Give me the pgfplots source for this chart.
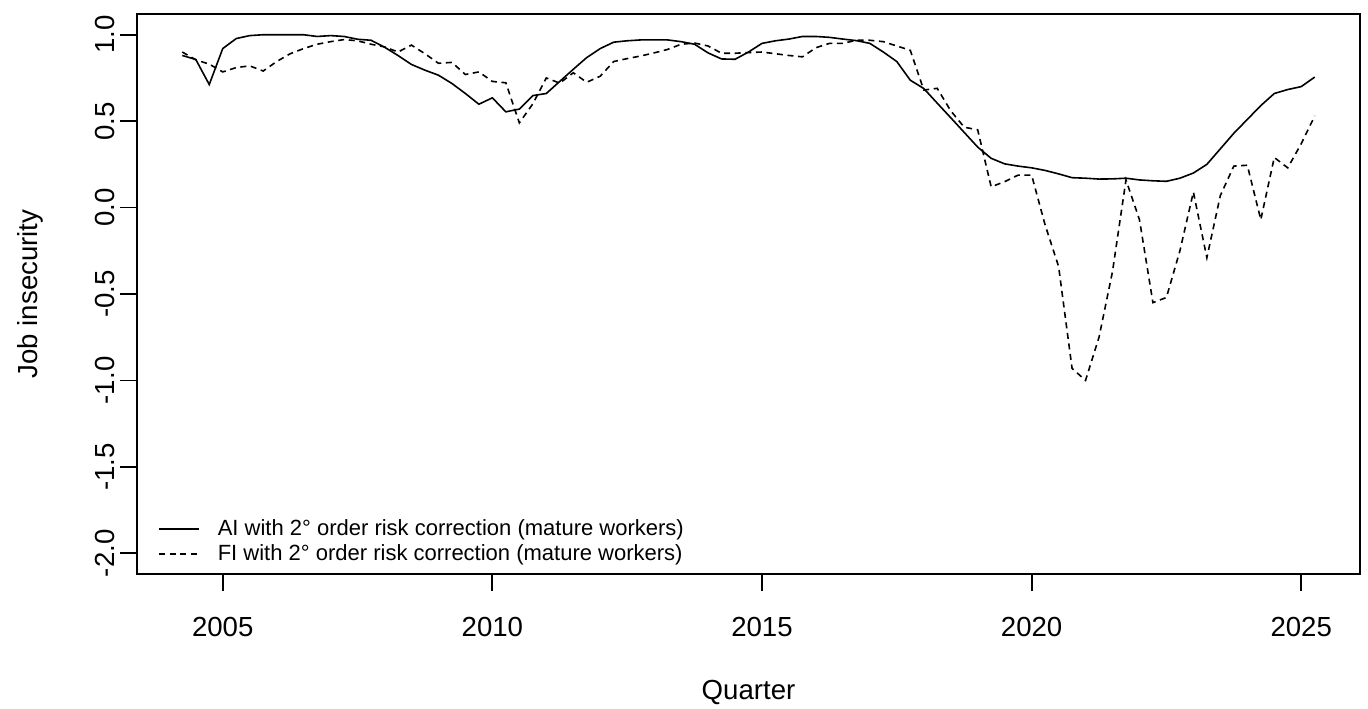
\documentclass[border=0pt]{standalone}
\usepackage{fontspec}
\setmainfont{Liberation Sans}
\usepackage{pgfplots}
\usepackage{pgfplotstable}
\pgfplotsset{compat=1.18}

% quarterly series
\pgfplotstableread{
t ai fi
2004.25 0.880 0.900
2004.50 0.857 0.855
2004.75 0.712 0.830
2005.00 0.920 0.785
2005.25 0.978 0.810
2005.50 0.995 0.820
2005.75 1.000 0.790
2006.00 1.000 0.845
2006.25 1.000 0.890
2006.50 1.000 0.920
2006.75 0.990 0.945
2007.00 0.995 0.960
2007.25 0.990 0.972
2007.50 0.974 0.965
2007.75 0.968 0.945
2008.00 0.928 0.930
2008.25 0.880 0.900
2008.50 0.828 0.940
2008.75 0.795 0.890
2009.00 0.766 0.835
2009.25 0.718 0.840
2009.50 0.660 0.770
2009.75 0.598 0.785
2010.00 0.635 0.730
2010.25 0.554 0.722
2010.50 0.570 0.490
2010.75 0.648 0.600
2011.00 0.660 0.750
2011.25 0.730 0.720
2011.50 0.800 0.780
2011.75 0.868 0.725
2012.00 0.920 0.760
2012.25 0.957 0.845
2012.50 0.965 0.862
2012.75 0.970 0.877
2013.00 0.970 0.895
2013.25 0.970 0.915
2013.50 0.960 0.945
2013.75 0.945 0.952
2014.00 0.895 0.935
2014.25 0.860 0.893
2014.50 0.858 0.893
2014.75 0.900 0.897
2015.00 0.950 0.900
2015.25 0.965 0.890
2015.50 0.975 0.880
2015.75 0.990 0.872
2016.00 0.990 0.925
2016.25 0.985 0.950
2016.50 0.975 0.950
2016.75 0.966 0.968
2017.00 0.950 0.968
2017.25 0.900 0.960
2017.50 0.845 0.935
2017.75 0.737 0.910
2018.00 0.689 0.680
2018.25 0.604 0.690
2018.50 0.520 0.560
2018.75 0.435 0.465
2019.00 0.350 0.450
2019.25 0.285 0.120
2019.50 0.253 0.150
2019.75 0.240 0.188
2020.00 0.230 0.188
2020.25 0.215 -0.100
2020.50 0.195 -0.340
2020.75 0.173 -0.930
2021.00 0.170 -1.000
2021.25 0.165 -0.750
2021.50 0.166 -0.370
2021.75 0.170 0.160
2022.00 0.160 -0.070
2022.25 0.155 -0.550
2022.50 0.152 -0.520
2022.75 0.170 -0.250
2023.00 0.200 0.090
2023.25 0.250 -0.290
2023.50 0.340 0.070
2023.75 0.430 0.240
2024.00 0.510 0.245
2024.25 0.590 -0.070
2024.50 0.660 0.290
2024.75 0.683 0.230
2025.00 0.700 0.370
2025.25 0.755 0.530
}\jobdata

\begin{document}
\begin{tikzpicture}
\useasboundingbox (-68.5pt,-67pt) rectangle (615.5pt,287pt);
\begin{axis}[
    at={(0,0)}, anchor=south west,
    scale only axis,
    width=611.5pt, height=280pt,
    xmin=2003.41, xmax=2026.09,
    ymin=-2.12, ymax=1.12,
    axis line style={line width=0.9pt},
    xtick={2005,2010,2015,2020,2025},
    xticklabels={2005,2010,2015,2020,2025},
    ytick={-2,-1.5,-1,-0.5,0,0.5,1},
    yticklabels={-2.0,-1.5,-1.0,-0.5,0.0,0.5,1.0},
    xtick pos=bottom, ytick pos=left,
    tick align=outside,
    major tick length=8.5pt,
    tick style={line width=0.9pt, black},
    tick label style={font=\fontsize{13.8}{16}\selectfont, inner sep=0pt},
    xticklabel style={anchor=north},
    yticklabel style={rotate=90, anchor=south},
    xticklabel shift=13pt,
    yticklabel shift=2.5pt,
    xlabel={Quarter},
    ylabel={Job insecurity},
    label style={font=\fontsize{13.8}{16}\selectfont},
    xlabel style={at={(axis description cs:0.5,-0.2107)}, anchor=center},
    ylabel style={at={(axis description cs:-0.0875,0.5)}, anchor=center},
    legend cell align=left,
    legend image code/.code={\draw[#1] (0pt,0pt) -- (20pt,0pt);},
    legend style={draw=none, fill=none,
        at={(0,0)}, anchor=south west,
        xshift=10.4pt, yshift=4.5pt,
        inner sep=0pt, row sep=2pt, column sep=8.5pt,
        font=\fontsize{11}{13}\selectfont,
        nodes={inner sep=0.5pt}},
]
\addplot[black, line width=0.8pt, mark=none] table[x=t, y=ai] {\jobdata};
\addlegendentry{AI with 2° order risk correction (mature workers)}
\addplot[black, line width=0.8pt, mark=none, dash pattern=on 3pt off 2.3pt] table[x=t, y=fi] {\jobdata};
\addlegendentry{FI with 2° order risk correction (mature workers)}
\end{axis}
\end{tikzpicture}
\end{document}
